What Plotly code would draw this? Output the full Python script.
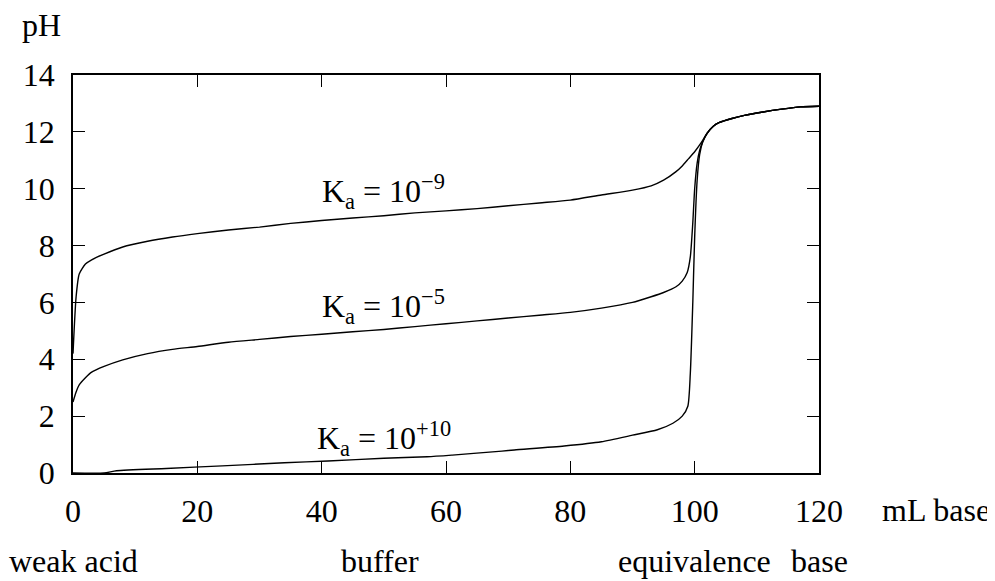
import plotly.graph_objects as go

# mL base added
x_weak9 = [0, 0.5, 1, 2, 3, 5, 8, 12, 16, 20, 25, 30, 35, 40, 45, 50, 55, 60, 65, 70, 75, 80, 85, 90, 93, 95, 97, 98, 99, 100, 101, 102, 103, 104, 106, 108, 111, 114, 117, 120]
ph_weak9 = [4.2, 6.2, 7.0, 7.35, 7.5, 7.7, 7.95, 8.15, 8.3, 8.42, 8.55, 8.65, 8.78, 8.88, 8.97, 9.05, 9.15, 9.22, 9.3, 9.4, 9.5, 9.6, 9.78, 9.95, 10.1, 10.3, 10.6, 10.8, 11.05, 11.3, 11.6, 11.95, 12.2, 12.33, 12.47, 12.58, 12.7, 12.8, 12.88, 12.9]

x_weak5 = [0, 0.5, 1, 2, 3, 5, 8, 12, 16, 20, 25, 30, 35, 40, 45, 50, 55, 60, 65, 70, 75, 80, 85, 90, 93, 95, 97, 98, 98.8, 99.3, 99.7, 100, 100.4, 100.8, 101.3, 102, 103, 104, 106, 108, 111, 114, 117, 120]
ph_weak5 = [2.5, 2.85, 3.1, 3.35, 3.55, 3.75, 3.98, 4.2, 4.35, 4.45, 4.6, 4.7, 4.8, 4.88, 4.97, 5.05, 5.15, 5.25, 5.35, 5.45, 5.55, 5.65, 5.8, 6.0, 6.2, 6.35, 6.55, 6.75, 7.05, 7.6, 8.8, 10.0, 10.9, 11.35, 11.65, 11.95, 12.2, 12.33, 12.47, 12.58, 12.7, 12.8, 12.88, 12.9]

x_strong = [0, 5, 7, 15, 24, 34, 41, 50, 57, 61, 69, 71, 79, 85, 90, 94, 96.5, 98, 98.9, 99.3, 99.7, 100, 100.4, 100.8, 101.3, 102, 103, 104, 106, 108, 111, 114, 117, 120]
ph_strong = [0.0, 0.0, 0.08, 0.16, 0.25, 0.36, 0.42, 0.52, 0.57, 0.63, 0.77, 0.81, 0.95, 1.1, 1.33, 1.52, 1.75, 2.0, 2.35, 3.5, 6.0, 8.3, 10.3, 11.2, 11.65, 11.95, 12.2, 12.33, 12.47, 12.58, 12.7, 12.8, 12.88, 12.9]

x_ticks = [0, 20, 40, 60, 80, 100, 120]
y_ticks = [0, 2, 4, 6, 8, 10, 12, 14]

curve_labels = ["K<sub>a</sub> = 10<sup>−9</sup>", "K<sub>a</sub> = 10<sup>−5</sup>", "K<sub>a</sub> = 10<sup>+10</sup>"]
label_x = [50, 50, 50]
label_y = [9.05, 5.0, 0.35]

region_labels = ["weak acid", "buffer", "equivalence", "base"]
region_x = [0, 49.4, 99.9, 120]

FONT = "Liberation Serif, Times New Roman, serif"
FS = 32

fig = go.Figure()
for xs, ys in [(x_weak9, ph_weak9), (x_weak5, ph_weak5), (x_strong, ph_strong)]:
    fig.add_trace(go.Scatter(x=xs, y=ys, mode="lines",
                             line=dict(color="black", width=1.4, shape="spline", smoothing=0.6),
                             showlegend=False, hoverinfo="skip"))

for t, xx, yy in zip(curve_labels, label_x, label_y):
    fig.add_annotation(x=xx, y=yy, text=t, showarrow=False, xanchor="center", yanchor="bottom",
                       font=dict(family=FONT, size=FS, color="black"))

for t, xx in zip(region_labels, region_x):
    fig.add_annotation(x=xx, y=-0.22, xref="x", yref="paper", text=t, showarrow=False,
                       xanchor="center", yanchor="middle",
                       font=dict(family=FONT, size=FS, color="black"))

fig.add_annotation(x=-0.042, y=1.126, xref="paper", yref="paper", text="pH", showarrow=False,
                   xanchor="center", yanchor="middle", font=dict(family=FONT, size=FS, color="black"))
fig.add_annotation(x=1.157, y=-0.093, xref="paper", yref="paper", text="mL base", showarrow=False,
                   xanchor="center", yanchor="middle", font=dict(family=FONT, size=FS, color="black"))

axis_common = dict(showgrid=False, zeroline=False, showline=True, linecolor="black", linewidth=1.6,
                   mirror="ticks", ticks="inside", ticklen=12, tickwidth=1.2, tickcolor="black",
                   tickfont=dict(family=FONT, size=FS, color="black"))

fig.update_xaxes(range=[0, 120], tickvals=x_ticks, ticktext=[str(v) for v in x_ticks],
                 ticklabelstandoff=9, **axis_common)
fig.update_yaxes(range=[0, 14], tickvals=y_ticks, ticktext=[str(v) for v in y_ticks],
                 ticklabelstandoff=10, **axis_common)

fig.update_layout(width=995, height=581, margin=dict(l=65, r=184, t=67, b=116),
                  paper_bgcolor="white", plot_bgcolor="white",
                  font=dict(family=FONT, size=FS, color="black"))

fig.write_html("out.html")
